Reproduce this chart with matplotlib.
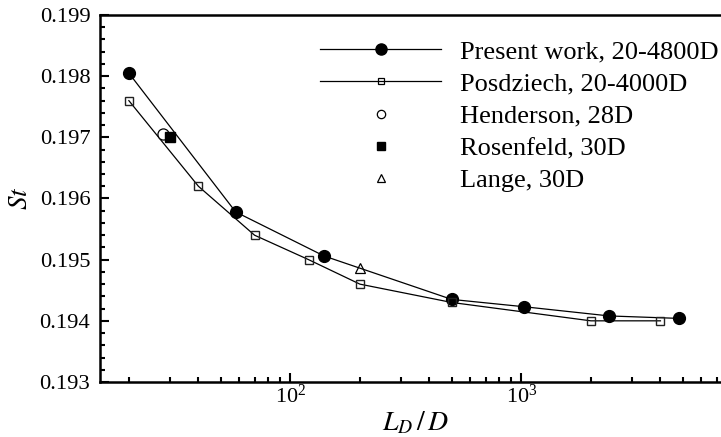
import numpy as np
import matplotlib
matplotlib.use('Agg')
import matplotlib.pyplot as plt
from matplotlib.lines import Line2D
from matplotlib.ticker import MultipleLocator, FormatStrFormatter, LogLocator

plt.rcParams['font.family'] = ['Liberation Serif', 'DejaVu Serif']
plt.rcParams['mathtext.fontset'] = 'stix'

# Strouhal number vs. domain length
present_x = [20, 58, 140, 500, 1030, 2400, 4800]
present_st = [0.19805, 0.19578, 0.19506, 0.19435, 0.19423, 0.19408, 0.19404]

posdziech_x = [20, 40, 70, 120, 200, 500, 2000, 4000]
posdziech_st = [0.1976, 0.1962, 0.1954, 0.1950, 0.1946, 0.1943, 0.1940, 0.1940]

henderson_x = [28]
henderson_st = [0.19705]
rosenfeld_x = [30]
rosenfeld_st = [0.1970]
lange_x = [200]
lange_st = [0.19486]

labels = ['Present work, 20-4800D', 'Posdziech, 20-4000D',
          'Henderson, 28D', 'Rosenfeld, 30D', 'Lange, 30D']

fig = plt.figure(figsize=(7.21, 4.37), dpi=100)
# axes run a little past the right edge of the figure, like the original
ax = fig.add_axes([100 / 721, 1 - 382 / 437, 630 / 721, 367 / 437])

ax.plot(present_x, present_st, '-o', color='black', lw=0.9, ms=8.5)
ax.plot(posdziech_x, posdziech_st, '-s', color='black', lw=0.9, ms=6,
        mfc='none', mec='#222222', mew=1.0)
ax.plot(henderson_x, henderson_st, 'o', color='black', ms=8, mfc='white', mew=0.9)
ax.plot(rosenfeld_x, rosenfeld_st, 's', color='black', ms=6.5)
ax.plot(lange_x, lange_st, '^', color='black', ms=7, mfc='none', mew=0.9)

ax.set_xscale('log')
ax.set_xlim(15, 8000)
ax.set_ylim(0.193, 0.199)
ax.yaxis.set_major_locator(MultipleLocator(0.001))
ax.yaxis.set_minor_locator(MultipleLocator(0.0002))
ax.yaxis.set_major_formatter(FormatStrFormatter('%.3f'))
ax.xaxis.set_major_locator(LogLocator(base=10))
ax.xaxis.set_minor_locator(LogLocator(base=10, subs=np.arange(2, 10)))

ax.tick_params(which='both', direction='in', top=False, right=False, width=1.5)
ax.tick_params(which='major', length=6.5)
ax.tick_params(which='minor', length=3.8)
ax.tick_params(axis='y', labelsize=16.2, pad=7)
ax.tick_params(axis='x', labelsize=16, pad=2)
for s in ax.spines.values():
    s.set_linewidth(1.8)

ax.set_ylabel('$St$', fontsize=19.5, labelpad=5)
ax.set_xlabel('$L_D\\,/\\,D$', fontsize=20, labelpad=1)

# legend with its own (smaller) symbols
handles = [
    Line2D([], [], color='black', lw=0.9, marker='o', ms=8),
    Line2D([], [], color='black', lw=0.9, marker='s', ms=5, mfc='none', mew=0.9),
    Line2D([], [], ls='none', color='black', marker='o', ms=6, mfc='none', mew=0.9),
    Line2D([], [], ls='none', color='black', marker='s', ms=5.5),
    Line2D([], [], ls='none', color='black', marker='^', ms=5.5, mfc='none', mew=0.9),
]
fig.legend(handles, labels, loc='upper left', bbox_to_anchor=(320 / 721, 1 - 40 / 437),
           frameon=False, fontsize=19, handlelength=4.6, handletextpad=0.7,
           labelspacing=0.33, borderpad=0, borderaxespad=0)

fig.savefig('out.png', dpi=100)
